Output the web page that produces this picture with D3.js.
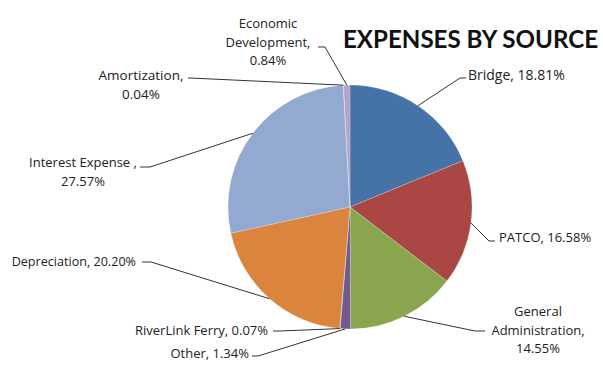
<!DOCTYPE html>
<html>
<head>
<meta charset="utf-8">
<script src="https://cdn.jsdelivr.net/npm/d3@7"></script>
<style>
  body { margin: 0; background: #fff; }
  text { font-family: "Open Sans", Lato, sans-serif; fill: #222; }
</style>
</head>
<body>
<svg width="603" height="365"></svg>
<script>
var sources = ["Bridge", "PATCO", "General Administration", "Other", "RiverLink Ferry",
               "Depreciation", "Interest Expense", "Amortization", "Economic Development"];
var shares = [18.81, 16.58, 14.55, 1.34, 0.07, 20.20, 27.57, 0.04, 0.84];
var colors = ["#4573a7", "#aa4643", "#89a54e", "#71588f", "#4198af",
              "#db843d", "#93a9cf", "#d19392", "#b5a3c9"];
var labelLines = [
    ["Bridge, 18.81%"],
    ["PATCO, 16.58%"],
    ["General", "Administration,", "14.55%"],
    ["Other, 1.34%"],
    ["RiverLink Ferry, 0.07%"],
    ["Depreciation, 20.20%"],
    ["Interest Expense ,", "27.57%"],
    ["Amortization,", "0.04%"],
    ["Economic", "Development,", "0.84%"]
];

// label placement (text anchor point, leader elbow and end)
var labelPos = [
    {x: 468, y: 80, anchor: "start", size: 14, elbow: [460, 78], end: [466, 78]},
    {x: 499, y: 242, anchor: "start", size: 13, elbow: [489, 241], end: [495, 241]},
    {x: 538, y: 316, anchor: "middle", size: 13, elbow: [475, 331], end: [485, 331]},
    {x: 249, y: 358, anchor: "end", size: 13, elbow: [258, 356], end: [252, 356]},
    {x: 268, y: 335, anchor: "end", size: 13, elbow: [280, 331], end: [273, 331]},
    {x: 136, y: 266, anchor: "end", size: 12.6, elbow: [151, 262], end: [142, 262]},
    {x: 83, y: 167, anchor: "middle", size: 13, elbow: [150, 167], end: [140, 167]},
    {x: 141, y: 80, anchor: "middle", size: 13.5, elbow: [190, 78], end: [188, 78]},
    {x: 268, y: 28, anchor: "middle", size: 13, elbow: [325, 47], end: [318, 47]}
];

var cx = 350, cy = 207, radius = 122;

var svg = d3.select("svg");

svg.append("text")
    .attr("x", 343).attr("y", 48)
    .attr("textLength", 255)
    .attr("lengthAdjust", "spacingAndGlyphs")
    .style("font-family", "Lato, sans-serif")
    .style("font-weight", "bold")
    .style("font-size", "24.5px")
    .style("fill", "#111")
    .text("EXPENSES BY SOURCE");

var pie = d3.pie().sort(null).value(function(d) { return d; });
var arcs = pie(shares);
var arc = d3.arc().innerRadius(0).outerRadius(radius);
var edgeArc = d3.arc().innerRadius(radius).outerRadius(radius);

var g = svg.append("g").attr("transform", "translate(" + cx + "," + cy + ")");

g.selectAll("path.slice")
    .data(arcs)
    .enter().append("path")
    .attr("class", "slice")
    .attr("d", arc)
    .style("fill", function(d, i) { return colors[i]; })
    .style("stroke", "rgba(255,255,255,0.35)")
    .style("stroke-width", 0.6);

// leader lines
svg.selectAll("polyline.leader")
    .data(arcs)
    .enter().append("polyline")
    .attr("class", "leader")
    .attr("points", function(d, i) {
        var c = edgeArc.centroid(d);
        var p = labelPos[i];
        return [[cx + c[0], cy + c[1]], p.elbow, p.end].map(function(q) { return q.join(","); }).join(" ");
    })
    .style("fill", "none")
    .style("stroke", "#333")
    .style("stroke-width", 1);

var labels = svg.selectAll("text.lbl")
    .data(sources)
    .enter().append("text")
    .attr("class", "lbl")
    .attr("x", function(d, i) { return labelPos[i].x; })
    .attr("y", function(d, i) { return labelPos[i].y; })
    .attr("text-anchor", function(d, i) { return labelPos[i].anchor; })
    .style("font-size", function(d, i) { return labelPos[i].size + "px"; });

labels.each(function(d, i) {
    var t = d3.select(this);
    labelLines[i].forEach(function(line, k) {
        t.append("tspan")
            .attr("x", labelPos[i].x)
            .attr("dy", k === 0 ? 0 : 18.5)
            .text(line);
    });
});
</script>
</body>
</html>
